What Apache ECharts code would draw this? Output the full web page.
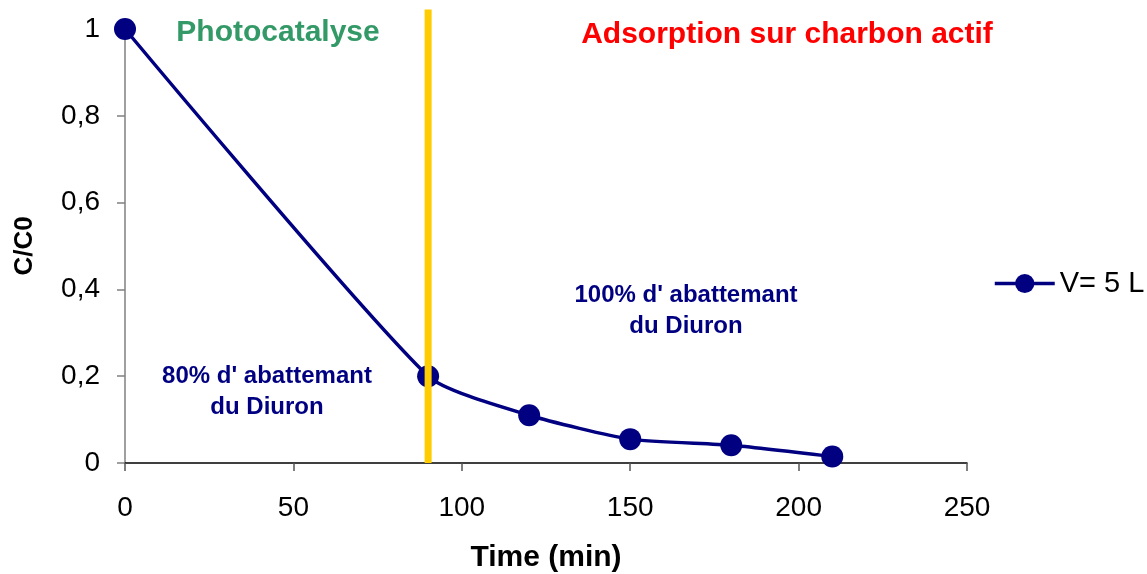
<!DOCTYPE html>
<html>
<head>
<meta charset="utf-8">
<script src="https://cdn.jsdelivr.net/npm/echarts@6/dist/echarts.min.js"></script>
<style>html,body{margin:0;padding:0;background:#fff;}#c{width:1147px;height:574px;}</style>
</head>
<body>
<div id="c"></div>
<script>
const timeMin = [0, 90, 120, 150, 180, 210];
const ratio = [1, 0.2, 0.11, 0.055, 0.041, 0.015];
const seriesName = 'V= 5 L';
const switchTime = 90;
const switchLineTop = 1.045;
const xTicks = [0, 50, 100, 150, 200, 250];
const yTicks = [0, 0.2, 0.4, 0.6, 0.8, 1];
const labels = {
  photo: 'Photocatalyse',
  adsorption: 'Adsorption sur charbon actif',
  left: "80% d' abattemant\ndu Diuron",
  right: "100% d' abattemant\ndu Diuron",
  xName: 'Time (min)',
  yName: 'C/C0'
};

const font = "'Liberation Sans', Arial, sans-serif";
const chart = echarts.init(document.getElementById('c'), null, {renderer: 'canvas'});
chart.setOption({
  animation: false,
  backgroundColor: '#ffffff',
  grid: {left: 125, right: 180, top: 29, bottom: 111, containLabel: false, outerBoundsMode: 'none'},
  xAxis: {
    type: 'value', min: xTicks[0], max: xTicks[xTicks.length - 1], interval: 50,
    name: labels.xName, nameLocation: 'middle', nameGap: 80,
    nameTextStyle: {fontFamily: font, fontSize: 30, fontWeight: 'bold', color: '#000'},
    axisLine: {show: true, onZero: false, lineStyle: {color: '#000', width: 1.5}},
    axisTick: {show: true, inside: false, length: 8, lineStyle: {color: '#555', width: 1.5}},
    axisLabel: {fontFamily: font, fontSize: 28, color: '#000', margin: 31},
    splitLine: {show: false}
  },
  yAxis: {
    type: 'value', min: yTicks[0], max: yTicks[yTicks.length - 1], interval: 0.2,
    name: labels.yName, nameLocation: 'middle', nameGap: 87, nameRotate: 90,
    nameTextStyle: {fontFamily: font, fontSize: 26, fontWeight: 'bold', color: '#000'},
    axisLine: {show: true, lineStyle: {color: '#808080', width: 1.5}},
    axisTick: {show: true, inside: false, length: 8, lineStyle: {color: '#808080', width: 1.5}},
    axisLabel: {fontFamily: font, fontSize: 28, color: '#000', margin: 25,
      formatter: v => String(Math.round(v * 10) / 10).replace('.', ',')},
    splitLine: {show: false}
  },
  legend: {
    data: [seriesName], orient: 'vertical', left: 993, top: 269, padding: 0,
    itemWidth: 60, itemHeight: 24, itemGap: 0,
    lineStyle: {width: 3.5},
    textStyle: {fontFamily: font, fontSize: 29, color: '#000', padding: [0, 0, 0, 0]}
  },
  series: [
    {
      name: seriesName, type: 'line', smooth: 0.2,
      data: timeMin.map((t, i) => [t, ratio[i]]),
      symbol: 'circle', symbolSize: 22,
      lineStyle: {color: '#000080', width: 3.5},
      itemStyle: {color: '#000080'},
      z: 2
    },
    {
      name: 'switch', type: 'line', clip: false, silent: true,
      data: [[switchTime, 0], [switchTime, switchLineTop]],
      symbol: 'none',
      lineStyle: {color: '#FFCC00', width: 7},
      z: 3
    }
  ],
  graphic: [
    {type: 'text', x: 278, y: 33, style: {text: labels.photo,
      font: "bold 30px " + font, fill: '#339966', align: 'center', verticalAlign: 'middle'}},
    {type: 'text', x: 787, y: 35, style: {text: labels.adsorption,
      font: "bold 30px " + font, fill: '#FF0000', align: 'center', verticalAlign: 'middle'}},
    {type: 'text', x: 267, y: 392, style: {text: labels.left, lineHeight: 31,
      font: "bold 24px " + font, fill: '#000080', align: 'center', verticalAlign: 'middle'}},
    {type: 'text', x: 686, y: 311, style: {text: labels.right, lineHeight: 31,
      font: "bold 24px " + font, fill: '#000080', align: 'center', verticalAlign: 'middle'}}
  ]
});
</script>
</body>
</html>
